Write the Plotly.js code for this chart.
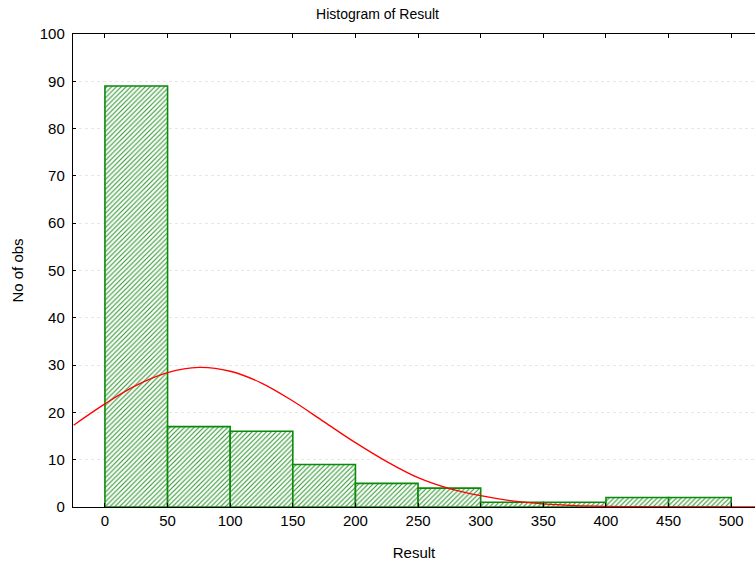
<!DOCTYPE html>
<html>
<head>
<meta charset="utf-8">
<script src="https://cdn.plot.ly/plotly-3.0.1.min.js"></script>
<style>html,body{margin:0;padding:0;background:#fff;}#chart{width:755px;height:564px;}</style>
</head>
<body>
<div id="chart"></div>
<script>
// Histogram bins (lower edges) and counts
const binStarts = [0, 50, 100, 150, 200, 250, 300, 350, 400, 450];
const binWidth = 50;
const counts = [89, 17, 16, 9, 5, 4, 1, 1, 2, 2];
// Fitted normal curve
const curveX = [-25, 0, 25, 50, 75, 100, 125, 150, 175, 200, 225, 250, 275, 300, 325, 350, 375, 400, 425, 450, 475, 500, 525];
const curveY = [17.3, 21.8, 25.7, 28.4, 29.5, 28.7, 26.2, 22.4, 18.0, 13.6, 9.6, 6.2, 3.9, 2.4, 1.3, 0.65, 0.3, 0.14, 0.06, 0.02, 0.01, 0, 0];
const xTicks = [0, 50, 100, 150, 200, 250, 300, 350, 400, 450, 500];
const yTicks = [0, 10, 20, 30, 40, 50, 60, 70, 80, 90, 100];

const barTrace = {
  type: 'bar',
  x: binStarts,
  y: counts,
  width: binStarts.map(() => binWidth),
  offset: 0,
  marker: {
    color: '#ffffff',
    line: {color: '#0a8a0a', width: 1.6},
    pattern: {shape: '/', fgcolor: '#2f962f', bgcolor: '#ffffff', size: 3.4, solidity: 0.32}
  },
  hoverinfo: 'x+y',
  showlegend: false
};
const curveTrace = {
  type: 'scatter',
  mode: 'lines',
  x: curveX,
  y: curveY,
  line: {color: '#ff0000', width: 1.3, shape: 'spline'},
  showlegend: false
};

const layout = {
  width: 755, height: 564,
  margin: {l: 73, r: 0, t: 34, b: 57},
  paper_bgcolor: '#ffffff', plot_bgcolor: '#ffffff',
  font: {family: 'Liberation Sans, Arial, sans-serif', color: '#000', size: 15},
  title: {text: 'Histogram of Result', font: {size: 14, color: '#000'}, x: 0.5, xanchor: 'center', y: 0.975, yref: 'container', yanchor: 'middle'},
  bargap: 0,
  xaxis: {
    range: [-25.5, 519],
    tickvals: xTicks,
    ticks: 'inside', ticklen: 4, tickcolor: '#000',
    showline: true, linecolor: '#000', linewidth: 1.2,
    mirror: 'ticks',
    showgrid: false, zeroline: false,
    tickfont: {size: 15},
    title: {text: 'Result', font: {size: 15}, standoff: 19}
  },
  yaxis: {
    range: [0, 100],
    tickvals: yTicks,
    ticks: 'inside', ticklen: 3, tickcolor: '#000',
    showline: true, linecolor: '#000', linewidth: 1.2,
    showgrid: true, gridcolor: '#e6e6e6', griddash: 'dot', gridwidth: 1,
    zeroline: false,
    tickfont: {size: 15},
    ticklabelstandoff: 4,
    title: {text: 'No of obs', font: {size: 15}, standoff: 12}
  }
};

Plotly.newPlot('chart', [barTrace, curveTrace], layout, {displayModeBar: false, staticPlot: true});
</script>
</body>
</html>
